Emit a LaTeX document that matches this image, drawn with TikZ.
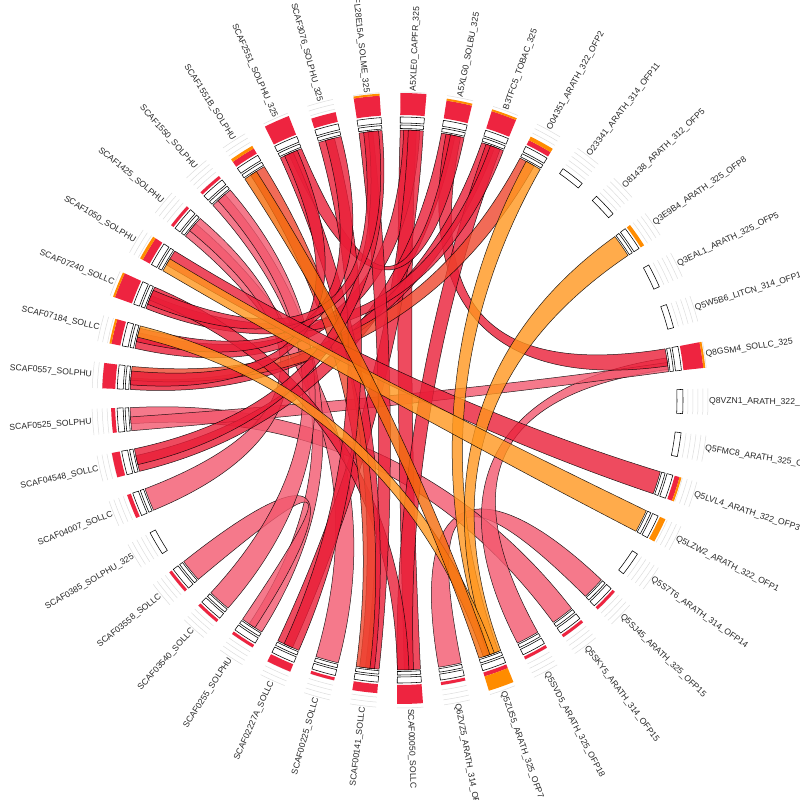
\documentclass[tikz,border=0pt]{standalone}
\usepackage{fontspec}
\setmainfont{Liberation Sans}
\usetikzlibrary{calc}
\definecolor{barred}{RGB}{238,36,64}
\definecolor{barorange}{RGB}{255,140,0}
\definecolor{rred}{RGB}{234,30,56}
\definecolor{rpink}{RGB}{243,88,110}
\definecolor{rorange}{RGB}{255,150,30}
\definecolor{rdorange}{RGB}{244,108,12}
\definecolor{rredor}{RGB}{238,70,45}
\definecolor{tickgray}{RGB}{222,222,222}
\definecolor{lblgray}{RGB}{40,40,40}
\newcommand{\rib}[7]{%
\pgfmathsetmacro{\ribca}{90-(2.5+#1*360/41)}%
\pgfmathsetmacro{\ribcb}{90-(2.5+#4*360/41)}%
\pgfmathsetmacro{\ribpa}{\ribca+2.45-4.9*#2}%
\pgfmathsetmacro{\ribpb}{\ribca+2.45-4.9*#3}%
\pgfmathsetmacro{\ribqa}{\ribcb+2.45-4.9*#5}%
\pgfmathsetmacro{\ribqb}{\ribcb+2.45-4.9*#6}%
\filldraw[ribstyle,fill=#7] (\ribpa:270pt) arc[start angle=\ribpa,end angle=\ribpb,radius=270pt]
 .. controls ($(\ribca:95pt)+0.8*(\ribpb:270pt)-0.8*(\ribca:270pt)$) and ($(\ribcb:95pt)+0.8*(\ribqa:270pt)-0.8*(\ribcb:270pt)$) .. (\ribqa:270pt)
 arc[start angle=\ribqa,end angle=\ribqb,radius=270pt]
 .. controls ($(\ribcb:95pt)+0.8*(\ribqb:270pt)-0.8*(\ribcb:270pt)$) and ($(\ribca:95pt)+0.8*(\ribpa:270pt)-0.8*(\ribca:270pt)$) .. (\ribpa:270pt) -- cycle;}
\begin{document}
\begin{tikzpicture}[
 ribstyle/.style={draw=black, line width=0.5pt, draw opacity=0.85, fill opacity=0.8},
 idbox/.style={draw=black, fill=white, line width=0.55pt},
 tickarc/.style={draw=tickgray, line width=0.5pt},
 lbl/.style={font=\fontsize{8.6}{10}\selectfont, text=lblgray, inner sep=0pt}]
\useasboundingbox (-400pt,-400pt) rectangle (400pt,400pt);
\fill[white] (-400pt,-400pt) rectangle (400pt,400pt);
% ribbons
\foreach \a/\b/\c/\d/\e/\f/\col in {
15/0/1/19/0/1/rpink,
16/0/1/30/0.3/1/rpink,
17/0/1/9/0.4/0.9/rpink,
30/0/0.6/9/0.6/1/rpink,
22/0/1/35/0/0.7/rpink,
28/0/1/35/0.3/1/rpink,
24/0/0.65/36/0/0.7/rpink,
24/0.35/1/26/0/1/rpink,
25/0/1/36/0.3/1/rpink,
0/0/0.7/20/0/0.7/rred,
0/0.15/0.85/32/0/0.7/rred,
0/0.35/1/23/0.3/1/rred,
1/0/0.6/29/0/0.7/rred,
1/0.2/0.85/9/0/0.75/rred,
1/0.4/1/38/0.4/1/rred,
2/0/0.6/31/0/0.5/rred,
2/0.2/0.85/20/0.3/1/rred,
2/0.4/1/33/0/0.6/rred,
3/0/0.7/31/0.4/1/rredor,
20/0.5/1/33/0.4/1/rred,
21/0/0.6/40/0/0.6/rred,
21/0.2/0.85/38/0/0.6/rred,
21/0.4/1/37/0.3/1/rredor,
23/0/0.7/39/0/0.7/rred,
29/0.3/1/40/0.4/1/rred,
31/0.2/0.8/38/0.2/0.8/rred,
32/0.3/0.9/39/0.3/1/rred,
33/0.2/0.85/40/0.2/0.85/rred,
34/0.3/1/12/0/1/rred,
3/0.3/1/18/0.1/0.6/rorange,
6/0/1/18/0/0.5/rorange,
13/0/1/34/0/0.6/rorange,
18/0.3/0.8/32/0.5/1/rorange,
18/0.5/1/37/0/0.6/rdorange}
{\rib{\a}{\b}{\c}{\d}{\e}{\f}{\col}}
% segments
\foreach \k/\nm/\hr/\ho/\lk in {
0/A5XLE0\_CAPFR\_325/22/0/1,
1/A5XLG0\_SOLBU\_325/18/2/1,
2/B3TFC5\_TOBAC\_325/18/2/1,
3/O04351\_ARATH\_322\_OFP2/5/4/1,
4/O23341\_ARATH\_314\_OFP11/0/0/0,
5/O81438\_ARATH\_312\_OFP5/0/0/0,
6/Q3E9B4\_ARATH\_325\_OFP8/0/4/1,
7/Q3EAL1\_ARATH\_325\_OFP5/0/0/0,
8/Q5W5B6\_LITCN\_314\_OFP11/0/0/0,
9/Q8GSM4\_SOLLC\_325/20/2/1,
10/Q8VZN1\_ARATH\_322\_OFP/0/0/0,
11/Q5FMC8\_ARATH\_325\_OFP/0/0/0,
12/Q5LVL4\_ARATH\_322\_OFP3/5/2/1,
13/Q5LZW2\_ARATH\_322\_OFP1/0/6/1,
14/Q5S7T6\_ARATH\_314\_OFP14/0/0/0,
15/Q5SJ45\_ARATH\_325\_OFP15/3/0/1,
16/Q5SKY5\_ARATH\_314\_OFP15/3/0/1,
17/Q5SVD5\_ARATH\_325\_OFP18/3/0/1,
18/Q5ZUS5\_ARATH\_325\_OFP7/4/15/1,
19/Q6ZVZ5\_ARATH\_314\_OFP/3/0/1,
20/SCAF00050\_SOLLC/19/0/1,
21/SCAF00141\_SOLLC/9/0/1,
22/SCAF00225\_SOLLC/3/0/1,
23/SCAF02227A\_SOLLC/8/0/1,
24/SCAF0255\_SOLPHU/3/0/1,
25/SCAF03540\_SOLLC/3/0/1,
26/SCAF03558\_SOLLC/3/0/1,
27/SCAF0385\_SOLPHU\_325/0/0/0,
28/SCAF04007\_SOLLC/4/0/1,
29/SCAF04548\_SOLLC/8/0/1,
30/SCAF0525\_SOLPHU/4/0/1,
31/SCAF0557\_SOLPHU/13/0/1,
32/SCAF07184\_SOLLC/9/2/1,
33/SCAF07240\_SOLLC/18/2/1,
34/SCAF1050\_SOLPHU/8/3/1,
35/SCAF1425\_SOLPHU/3/0/1,
36/SCAF1550\_SOLPHU/3/0/1,
37/SCAF1551B\_SOLPHU/6/3/1,
38/SCAF2551\_SOLPHU\_325/20/0/1,
39/SCAF3076\_SOLPHU\_325/10/0/1,
40/FL28E15A\_SOLME\_325/20/2/1}
{
 \pgfmathsetmacro{\segc}{90-(2.5+\k*360/41)}
 \pgfmathsetmacro{\sega}{\segc+2.45}
 \pgfmathsetmacro{\segb}{\segc-2.45}
 \foreach \rr in {288,293,298,303,308}{\draw[tickarc] (\sega:\rr pt) arc[start angle=\sega,end angle=\segb,radius=\rr pt];}
 \draw[idbox] (\sega:277pt) arc[start angle=\sega,end angle=\segb,radius=277pt] -- (\segb:283pt) arc[start angle=\segb,end angle=\sega,radius=283pt] -- cycle;
 \ifnum\lk=1
  \draw[idbox] (\sega:271.5pt) arc[start angle=\sega,end angle=\segb,radius=271.5pt] -- (\segb:275pt) arc[start angle=\segb,end angle=\sega,radius=275pt] -- cycle;
 \fi
 \ifnum\hr>0
  \pgfmathsetmacro{\barrt}{285+\hr}
  \fill[barred] (\sega:285pt) arc[start angle=\sega,end angle=\segb,radius=285pt] -- (\segb:\barrt pt) arc[start angle=\segb,end angle=\sega,radius=\barrt pt] -- cycle;
 \fi
 \ifnum\ho>0
  \pgfmathsetmacro{\barrs}{285+\hr}
  \pgfmathsetmacro{\barrt}{285+\hr+\ho}
  \fill[barorange] (\sega:\barrs pt) arc[start angle=\sega,end angle=\segb,radius=\barrs pt] -- (\segb:\barrt pt) arc[start angle=\segb,end angle=\sega,radius=\barrt pt] -- cycle;
 \fi
 \ifnum\k<21
  \node[lbl, rotate=\segc, anchor=west] (lab\k) at (\segc:309pt) {\nm};
 \else
  \pgfmathsetmacro{\segr}{\segc+180}
  \node[lbl, rotate=\segr, anchor=east] (lab\k) at (\segc:309pt) {\nm};
 \fi
}
\end{tikzpicture}
\end{document}
